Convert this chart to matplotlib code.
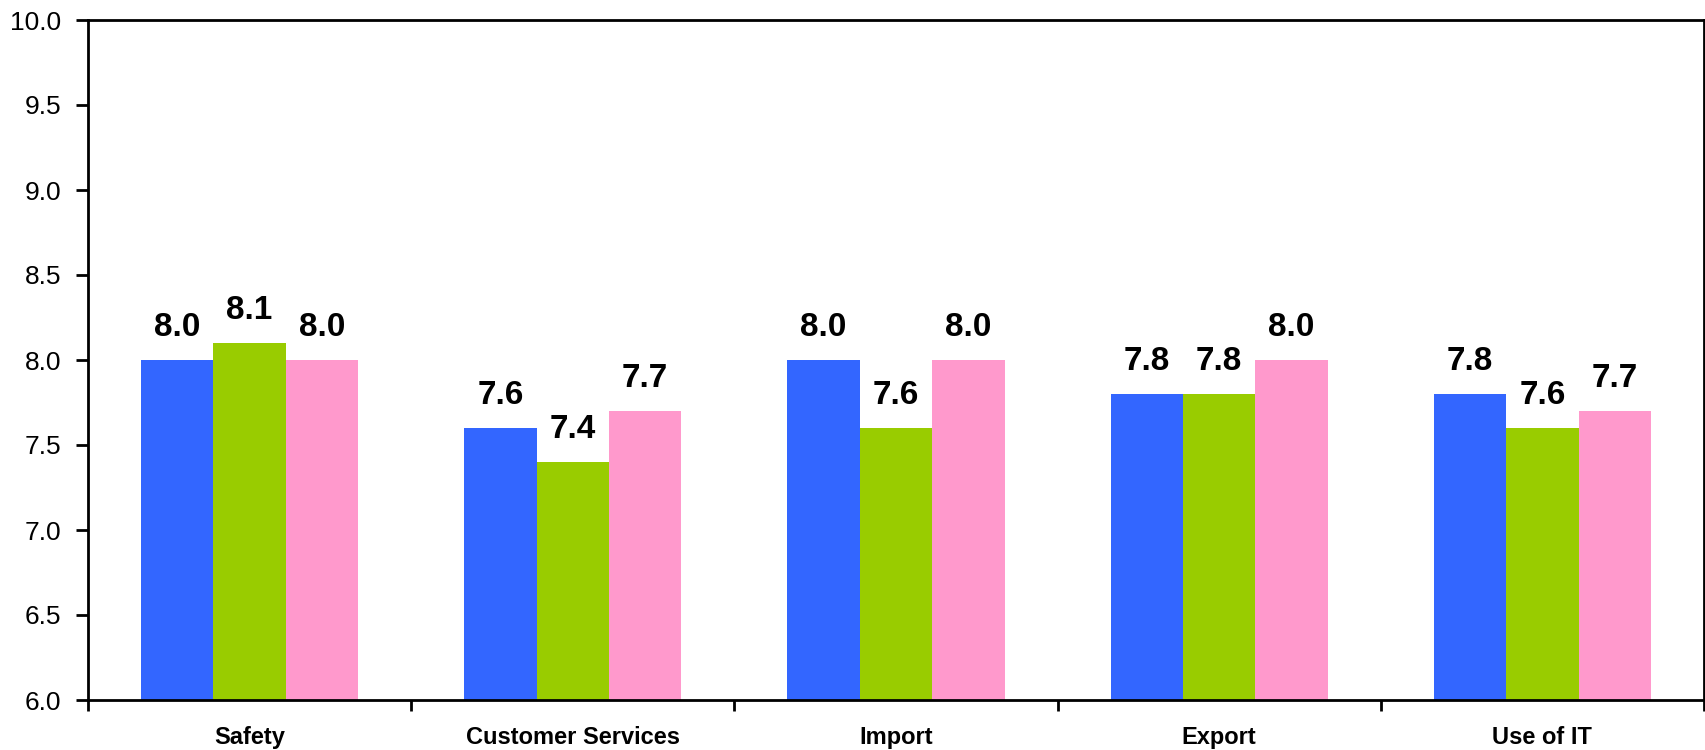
import numpy as np
import matplotlib
matplotlib.use('Agg')
from matplotlib import pyplot as plt

# Data
categories = ['Safety', 'Customer Services', 'Import', 'Export', 'Use of IT']
series_a = [8.0, 7.6, 8.0, 7.8, 7.8]
series_b = [8.1, 7.4, 7.6, 7.8, 7.6]
series_c = [8.0, 7.7, 8.0, 8.0, 7.7]
colors = ['#3366FF', '#99CC00', '#FF99CC']

plt.rcParams['font.family'] = ['Liberation Sans', 'DejaVu Sans']

fig = plt.figure(figsize=(17.05, 7.5), dpi=100)
ax = fig.add_axes([88 / 1705, 50 / 750, (1704 - 88) / 1705, 680 / 750])

x = np.arange(len(categories))
w = 0.224
for i, (vals, c) in enumerate(zip([series_a, series_b, series_c], colors)):
    bars = ax.bar(x + (i - 1) * w, np.array(vals) - 6.0, w, bottom=6.0, color=c, zorder=2)
    for xi, v in zip(x + (i - 1) * w, vals):
        ax.annotate(f'{v:.1f}', (xi, v), xytext=(0, 12), textcoords='offset points',
                    ha='center', va='bottom', fontsize=24, fontweight='bold')

ax.set_xlim(-0.5, len(categories) - 0.5)
ax.set_ylim(6.0, 10.0)
ax.set_yticks(np.arange(6.0, 10.01, 0.5))
ax.set_yticklabels([f'{t:.1f}' for t in np.arange(6.0, 10.01, 0.5)], fontsize=19)
ax.set_xticks(np.arange(-0.5, len(categories), 1.0))
ax.set_xticklabels([])
ax.set_xticks(x, minor=True)
ax.set_xticklabels(categories, minor=True, fontsize=17, fontweight='bold')
ax.tick_params(axis='x', which='minor', length=0, pad=19)
ax.tick_params(axis='x', which='major', direction='out', length=8, width=2)
ax.tick_params(axis='y', direction='out', length=9, width=2, pad=10)
for s in ax.spines.values():
    s.set_linewidth(2)

fig.savefig('out.png', dpi=100)
